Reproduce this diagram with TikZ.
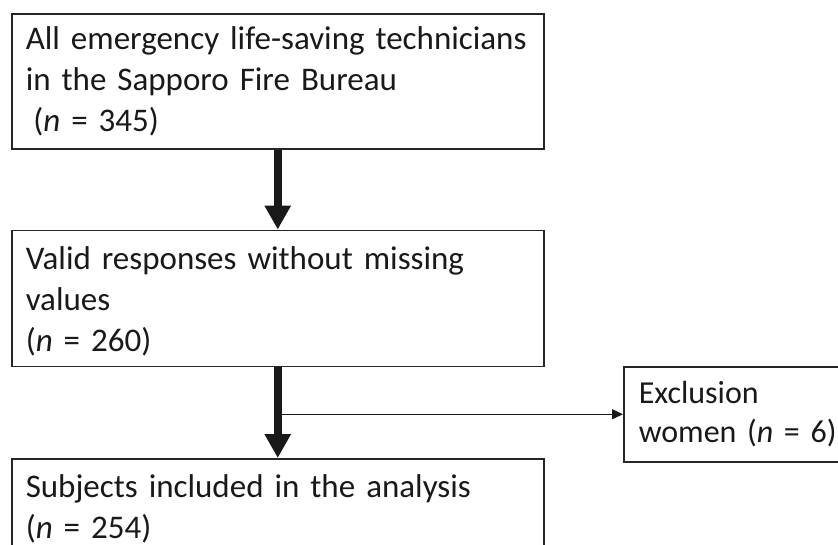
\documentclass[tikz,border=0pt]{standalone}
\usepackage{fontspec}
\setmainfont{Carlito}
\usetikzlibrary{arrows.meta,positioning}
\tikzset{
  flowbox/.style = {draw=black!85, line width=1.5pt, anchor=north west,
                    align=left, text width=#1, inner xsep=14pt, inner ysep=0pt,
                    font=\fontsize{33}{41}\selectfont, text=black!90},
  flowbox/.default = 504pt,
  bigarrow/.style = {line width=8pt, draw=black!90,
                     -{Triangle[length=24pt,width=25pt]}},
  thinarrow/.style = {line width=1.3pt, draw=black!90,
                      -{Triangle[length=11pt,width=10pt]}}
}
\newcommand{\nvar}{{\itshape n}}

\begin{document}
\begin{tikzpicture}[x=1pt, y=-1pt]
	\useasboundingbox (0,0) rectangle (838,544);
	\clip (0,0) rectangle (838,544);

	% Boxes
	\node[flowbox, minimum height=135pt] (all) at (11,13)
		{\mbox{All emergency life-saving technicians}\\
		 in the Sapporo Fire Bureau\\
		 \hspace*{.23em}(\nvar{} = 345)};
	\node[flowbox, minimum height=136pt, below=80pt of all] (valid)
		{\rule{0pt}{30pt}Valid responses without missing\\
		 values\\
		 (\nvar{} = 260)};
	\node[flowbox, minimum height=100pt, below=91pt of valid] (incl)
		{Subjects included in the analysis\\
		 (\nvar{} = 254)};
	\node[flowbox=230pt, inner xsep=15pt, minimum height=95pt,
	      font=\fontsize{32}{39}\selectfont] (excl) at (623,366)
		{Exclusion\\
		 women (\nvar{} = 6)};

	% Arrows
	\draw[bigarrow] (all.south) -- (valid.north);
	\draw[bigarrow] (valid.south) -- (incl.north);
	\draw[thinarrow] (valid.south |- excl.west) -- (excl.west);
\end{tikzpicture}
\end{document}
